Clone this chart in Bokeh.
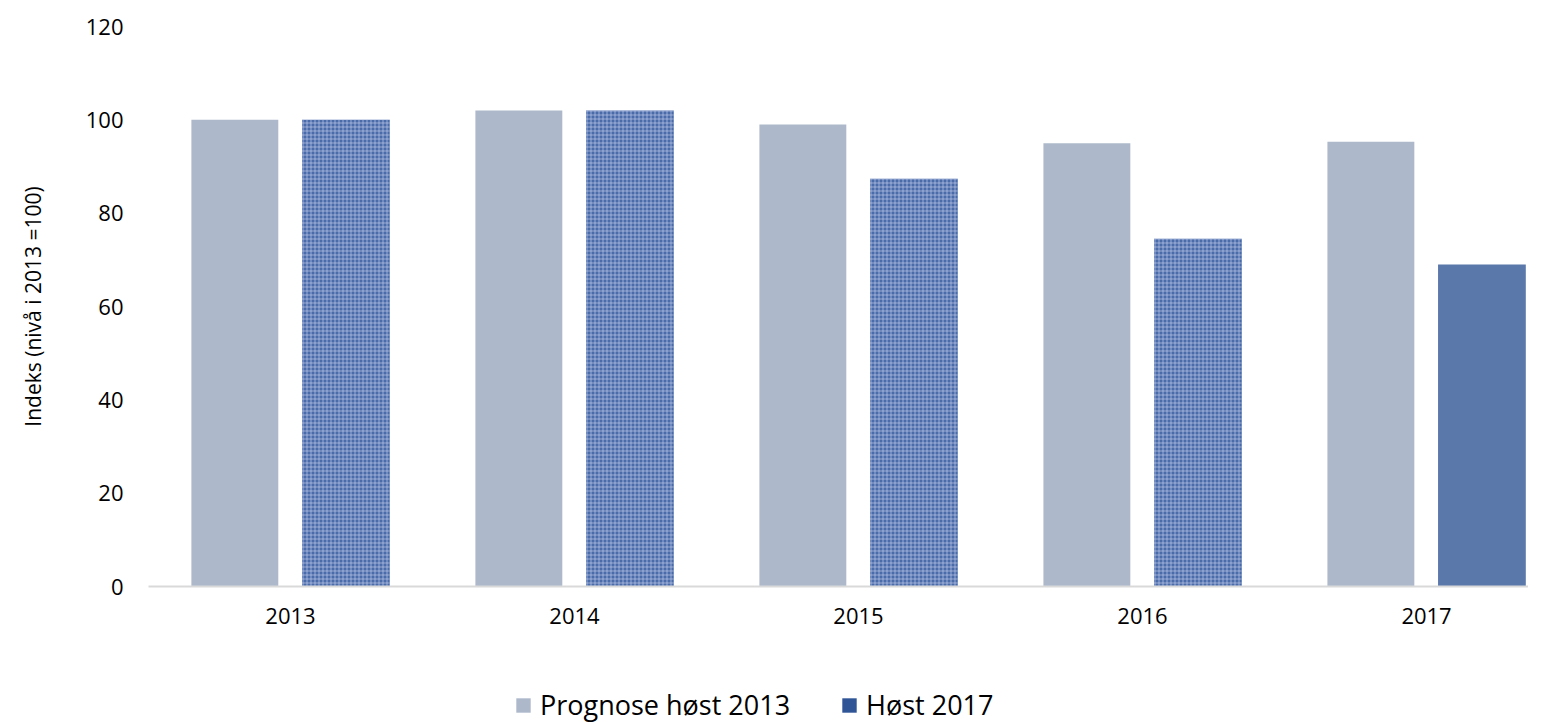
from bokeh.plotting import figure
from bokeh.layouts import column
from bokeh.models import Range1d, Legend, LegendItem, FixedTicker, ColumnDataSource
from bokeh.embed import file_html
from bokeh.resources import INLINE
from bokeh.transform import dodge

years = ["2013", "2014", "2015", "2016", "2017"]
prognose_2013 = [100, 102, 99, 95, 95.3]
host_2017 = [100, 102, 87.4, 74.5, 69.0]
y_ticks = [0, 20, 40, 60, 80, 100, 120]
series_labels = ["Prognose høst 2013", "Høst 2017"]

FONT = "Open Sans"
x = list(range(len(years)))
hatched = [True, True, True, True, False]

src_a = ColumnDataSource(dict(x=x, top=prognose_2013))
src_h = ColumnDataSource(dict(x=[xi for xi, h in zip(x, hatched) if h],
                              top=[v for v, h in zip(host_2017, hatched) if h]))
src_s = ColumnDataSource(dict(x=[xi for xi, h in zip(x, hatched) if not h],
                              top=[v for v, h in zip(host_2017, hatched) if not h]))

p = figure(output_backend="svg", toolbar_location=None,
           frame_width=1380, frame_height=560,
           x_range=Range1d(-0.5, 4.359), y_range=Range1d(0, 120),
           min_border_left=148, min_border_top=26, min_border_right=0,
           min_border_bottom=76, outline_line_color=None)

p.vbar(x=dodge("x", -0.196, range=p.x_range), top="top", width=0.306,
       source=src_a, fill_color="#ADB9CA", line_color=None)
p.vbar(x=dodge("x", 0.195, range=p.x_range), top="top", width=0.309,
       source=src_h, fill_color="#4A6BAA", line_color=None,
       hatch_pattern="+", hatch_color="#C9D6EE", hatch_alpha=0.6,
       hatch_scale=4, hatch_weight=1)
p.vbar(x=dodge("x", 0.195, range=p.x_range), top="top", width=0.309,
       source=src_s, fill_color="#5A78AA", line_color=None)

p.xgrid.visible = False
p.ygrid.visible = False

p.xaxis.ticker = FixedTicker(ticks=x)
p.xaxis.major_label_overrides = {i: y for i, y in enumerate(years)}
p.xaxis.axis_line_color = "#D9D9D9"
p.xaxis.axis_line_width = 2
p.xaxis.major_tick_line_color = None
p.xaxis.minor_tick_line_color = None
p.xaxis.major_tick_out = 0
p.xaxis.major_tick_in = 0
p.xaxis.major_label_standoff = 21
p.xaxis.major_label_text_font = FONT
p.xaxis.major_label_text_font_size = "22px"
p.xaxis.major_label_text_color = "#000000"

p.yaxis.ticker = FixedTicker(ticks=y_ticks)
p.yaxis.axis_line_color = None
p.yaxis.major_tick_line_color = None
p.yaxis.minor_tick_line_color = None
p.yaxis.major_tick_out = 0
p.yaxis.major_tick_in = 0
p.yaxis.major_label_standoff = 25
p.yaxis.major_label_text_font = FONT
p.yaxis.major_label_text_font_size = "22px"
p.yaxis.major_label_text_color = "#000000"
p.yaxis.axis_label = "Indeks (nivå i 2013 =100)"
p.yaxis.axis_label_text_font = FONT
p.yaxis.axis_label_text_font_size = "21px"
p.yaxis.axis_label_text_font_style = "normal"
p.yaxis.axis_label_text_color = "#000000"
p.yaxis.axis_label_standoff = 36

# legend in its own strip below the chart
lg = figure(output_backend="svg", toolbar_location=None, width=1528, height=60,
            x_range=Range1d(0, 1), y_range=Range1d(0, 1),
            min_border=0, outline_line_color=None)
lg.axis.visible = False
lg.grid.visible = False
la = lg.quad(left=[-10], right=[-9], bottom=[-10], top=[-9], fill_color="#ADB9CA", line_color=None)
lb = lg.quad(left=[-10], right=[-9], bottom=[-10], top=[-9], fill_color="#2F5597", line_color=None)
legend = Legend(items=[LegendItem(label=series_labels[0], renderers=[la]),
                       LegendItem(label=series_labels[1], renderers=[lb])],
                orientation="horizontal", location=(366, -1),
                label_text_font=FONT, label_text_font_size="27px",
                label_text_color="#000000", border_line_color=None,
                background_fill_alpha=0, glyph_width=18, glyph_height=18,
                label_standoff=8, spacing=50, margin=0, padding=0)
lg.add_layout(legend, "center")

layout = column(p, lg, spacing=0)
open("out.html", "w").write(file_html(layout, INLINE))
